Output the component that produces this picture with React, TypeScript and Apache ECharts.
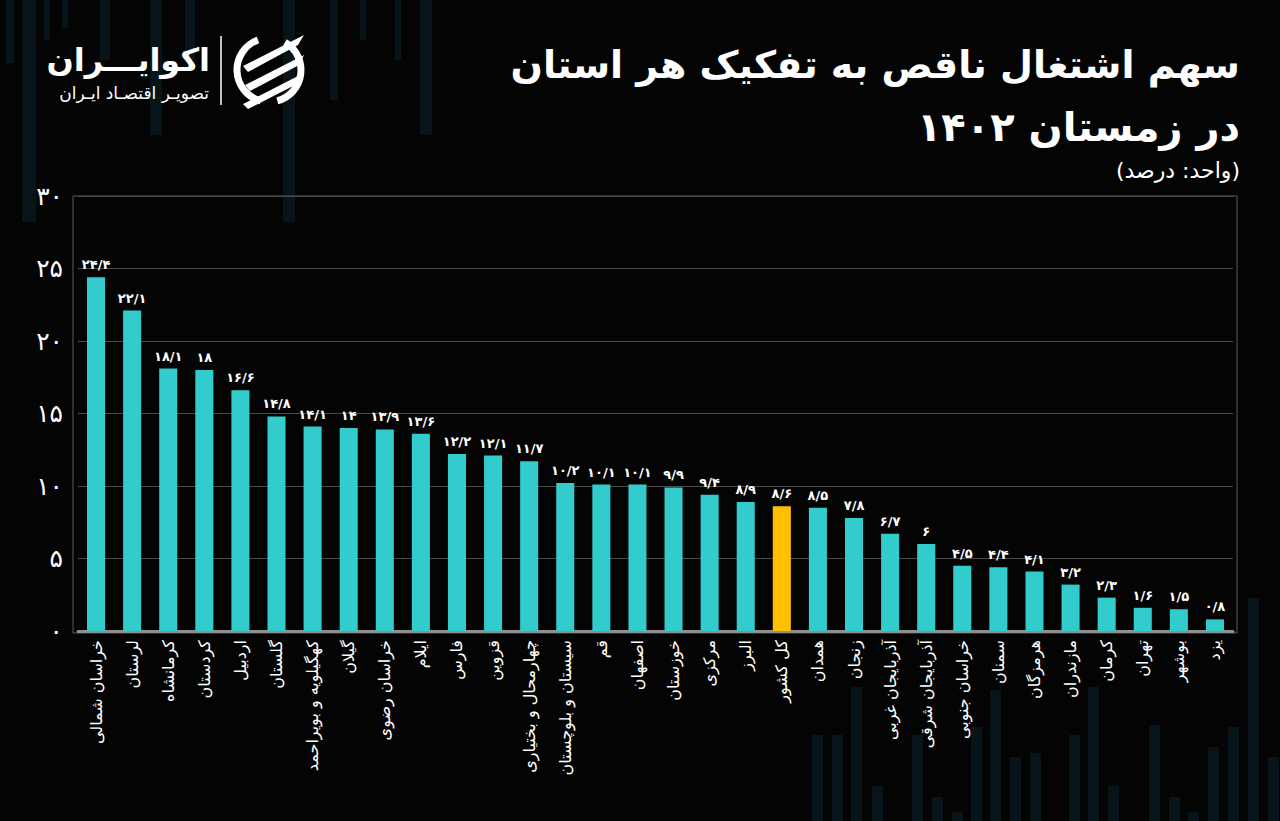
import React, { useEffect, useRef } from "react";
import * as echarts from "echarts";

const provinces = [
  "خراسان شمالی", "لرستان", "کرمانشاه", "کردستان", "اردبیل", "گلستان",
  "کهگیلویه و بویراحمد", "گیلان", "خراسان رضوی", "ایلام", "فارس", "قزوین",
  "چهارمحال و بختیاری", "سیستان و بلوچستان", "قم", "اصفهان", "خوزستان", "مرکزی",
  "البرز", "کل کشور", "همدان", "زنجان", "آذربایجان غربی", "آذربایجان شرقی",
  "خراسان جنوبی", "سمنان", "هرمزگان", "مازندران", "کرمان", "تهران", "بوشهر", "یزد",
];
const shares = [
  24.4, 22.1, 18.1, 18, 16.6, 14.8,
  14.1, 14, 13.9, 13.6, 12.2, 12.1,
  11.7, 10.2, 10.1, 10.1, 9.9, 9.4,
  8.9, 8.6, 8.5, 7.8, 6.7, 6,
  4.5, 4.4, 4.1, 3.2, 2.3, 1.6, 1.5, 0.8,
];
const highlightCategory = "کل کشور";
const yMin = 0;
const yMax = 30;
const yStep = 5;

const titleLine1 = "سهم اشتغال ناقص به تفکیک هر استان";
const titleLine2 = "در زمستان ۱۴۰۲";
const unitText = "(واحد: درصد)";
const logoName = "اکوایـــران";
const logoTagline = "تصویـر اقتصـاد ایـران";

const FA_DIGITS = "۰۱۲۳۴۵۶۷۸۹";
const toFa = (v: number | string) =>
  String(v).replace(/\d/g, (d) => FA_DIGITS[+d]).replace(".", "/");

const FONT = "DejaVu Sans";
const CYAN = "#33CCCC";
const AMBER = "#FFC000";
const DECO = "#07151b";

const decoTop: [number, number, number][] = [
  [6, 8, 63], [22, 14, 222], [44, 6, 40], [62, 6, 28], [100, 10, 60],
  [150, 12, 135], [185, 10, 60], [283, 12, 222], [330, 8, 100],
  [360, 6, 40], [420, 12, 135], [395, 6, 60],
];
const decoBottom: [number, number][] = [
  [812, 735], [832, 735], [851, 687], [872, 786], [912, 735], [932, 797],
  [952, 812], [971, 727], [990, 690], [1010, 757], [1030, 753], [1069, 735],
  [1088, 687], [1108, 786], [1149, 725], [1169, 797], [1188, 812], [1208, 747],
  [1228, 727], [1248, 598], [1268, 757],
];

export default function App() {
  const ref = useRef<HTMLDivElement>(null);
  useEffect(() => {
    if (!ref.current) return;
    const chart = echarts.init(ref.current, undefined, { renderer: "svg" });

    const deco: any[] = [
      ...decoTop.map(([x, w, h]) => ({
        type: "rect", z: -10, silent: true,
        shape: { x, y: 0, width: w, height: h },
        style: { fill: DECO },
      })),
      ...decoBottom.map(([x, y]) => ({
        type: "rect", z: -10, silent: true,
        shape: { x, y, width: 11, height: 821 - y },
        style: { fill: DECO },
      })),
    ];

    const stripe = (pts: number[][]) => ({
      type: "polygon",
      shape: { points: pts },
      style: { fill: "#ffffff" },
    });

    const logo: any[] = [
      {
        type: "text", x: 210, y: 60,
        style: { text: logoName, fill: "#fff", font: `bold 32px '${FONT}'`, align: "right", verticalAlign: "middle" },
      },
      {
        type: "text", x: 209, y: 93,
        style: { text: logoTagline, fill: "#fff", font: `17px '${FONT}'`, align: "right", verticalAlign: "middle" },
      },
      {
        type: "line",
        shape: { x1: 221, y1: 36, x2: 221, y2: 105 },
        style: { stroke: "#fff", lineWidth: 1.5 },
      },
      {
        type: "arc",
        shape: { cx: 269, cy: 70, r: 32, startAngle: (105 * Math.PI) / 180, endAngle: (250 * Math.PI) / 180, clockwise: true },
        style: { stroke: "#fff", lineWidth: 7, fill: "none" },
      },
      {
        type: "arc",
        shape: { cx: 269, cy: 70, r: 32, startAngle: (-60 * Math.PI) / 180, endAngle: (75 * Math.PI) / 180, clockwise: true },
        style: { stroke: "#fff", lineWidth: 7, fill: "none" },
      },
      stripe([[243, 66], [304, 35], [298, 45], [248, 72]]),
      stripe([[245, 85], [304, 55], [299, 65], [250, 91]]),
      stripe([[243, 104], [302, 74], [297, 84], [248, 109]]),
    ];

    const titles: any[] = [
      {
        type: "text", x: 1240, y: 65,
        style: { text: titleLine1, fill: "#fff", font: `bold 38px '${FONT}'`, align: "right", verticalAlign: "middle" },
      },
      {
        type: "text", x: 1240, y: 127,
        style: { text: titleLine2, fill: "#fff", font: `bold 40px '${FONT}'`, align: "right", verticalAlign: "middle" },
      },
      {
        type: "text", x: 1240, y: 170,
        style: { text: "\u202B" + unitText + "\u202C", fill: "#fff", font: `22px '${FONT}'`, align: "right", verticalAlign: "middle" },
      },
      {
        type: "rect",
        shape: { x: 73, y: 196, width: 1164, height: 437 },
        style: { fill: "none", stroke: "#5a5a5a", lineWidth: 1 },
        silent: true,
      },
    ];

    chart.setOption({
      animation: false,
      backgroundColor: "#040404",
      textStyle: { fontFamily: FONT },
      grid: { left: 78, right: 47, top: 196, bottom: 190, containLabel: false },
      xAxis: {
        type: "category",
        data: provinces,
        axisLine: { show: true, lineStyle: { color: "#8f8f8f", width: 3 } },
        axisTick: { show: false },
        axisLabel: {
          rotate: 90, interval: 0, color: "#fff", fontSize: 16, margin: 9, fontFamily: FONT,
        },
      },
      yAxis: {
        type: "value",
        min: yMin, max: yMax, interval: yStep,
        axisLine: { show: false },
        axisTick: { show: false },
        splitLine: { lineStyle: { color: "#4a4a4a", width: 1 } },
        axisLabel: {
          color: "#fff", fontSize: 25, margin: 15, fontFamily: FONT,
          formatter: (v: number) => toFa(v),
        },
      },
      series: [
        {
          type: "bar",
          barWidth: "50%",
          z: 3,
          data: shares.map((v, i) => ({
            value: v,
            itemStyle: { color: provinces[i] === highlightCategory ? AMBER : CYAN },
          })),
          label: {
            show: true, position: "top", distance: 6, color: "#fff", fontSize: 13, fontWeight: "bold",
            fontFamily: FONT,
            formatter: (p: any) => toFa(p.value),
          },
        },
      ],
      graphic: [...deco, ...logo, ...titles],
    });
    return () => chart.dispose();
  }, []);
  return <div ref={ref} style={{ position: "absolute", left: 0, top: 0, width: 1280, height: 821 }} />;
}
